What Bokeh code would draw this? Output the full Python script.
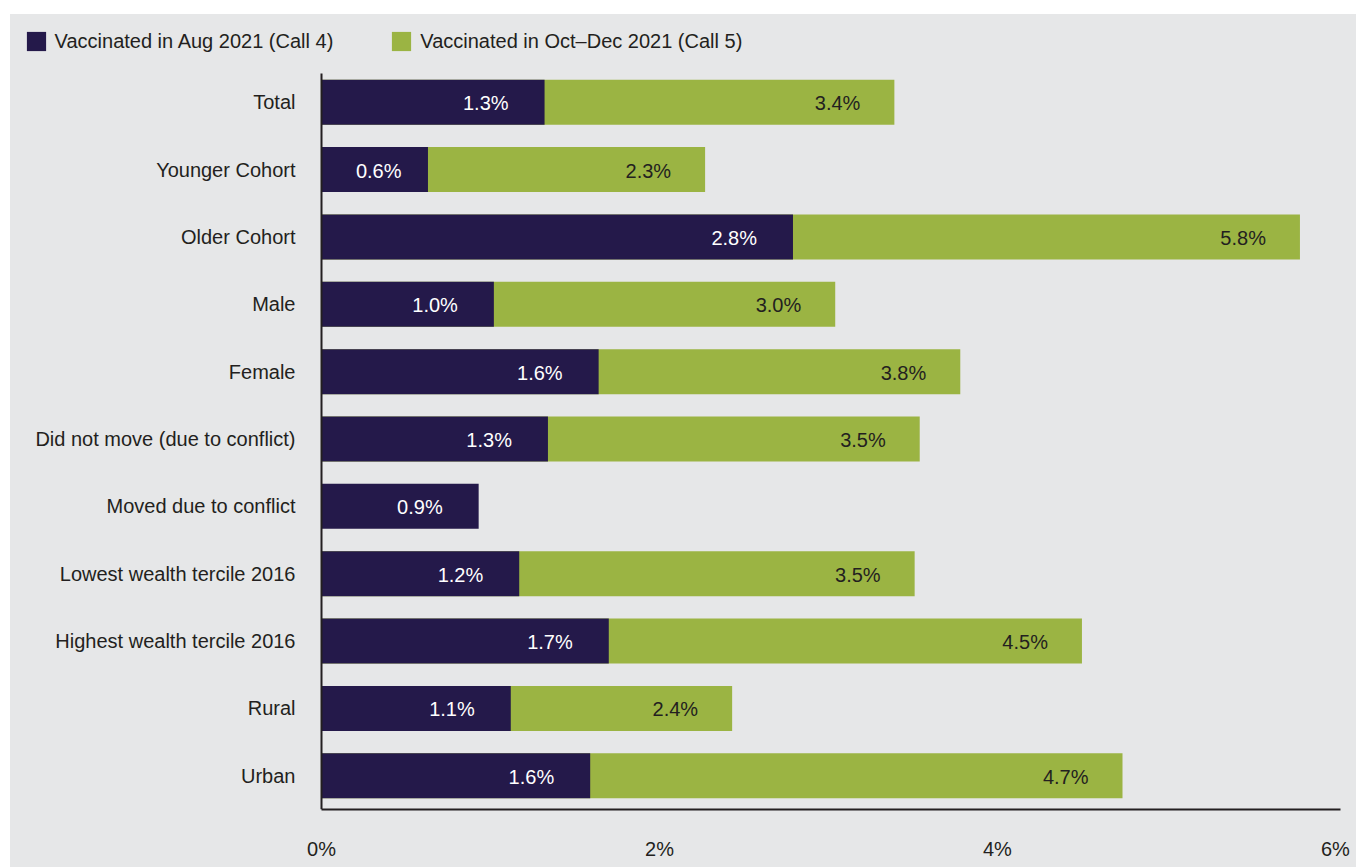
from bokeh.plotting import figure
from bokeh.models import Range1d, Legend, LegendItem, ColumnDataSource, FixedTicker
from bokeh.embed import file_html
from bokeh.resources import INLINE
from bokeh.core.properties import value

categories = ["Total", "Younger Cohort", "Older Cohort", "Male", "Female",
              "Did not move (due to conflict)", "Moved due to conflict",
              "Lowest wealth tercile 2016", "Highest wealth tercile 2016",
              "Rural", "Urban"]
call4 = [1.32, 0.63, 2.79, 1.02, 1.64, 1.34, 0.93, 1.17, 1.70, 1.12, 1.59]
call5 = [3.39, 2.27, 5.79, 3.04, 3.78, 3.54, None, 3.51, 4.50, 2.43, 4.74]
series_names = ["Vaccinated in Aug 2021 (Call 4)", "Vaccinated in Oct\u2013Dec 2021 (Call 5)"]
x_ticks = [0, 2, 4, 6]
x_tick_labels = ["0%", "2%", "4%", "6%"]

FONT = "Liberation Sans"
BG = "#e6e7e8"
PURPLE = "#24194a"
GREEN = "#9bb443"
DARK = "#231f20"
FS = "20px"

# layout (pixels)
FIG_W, FIG_H = 1346, 853
BOTTOM = 58
AXIS_LEFT = 311                     # x=0 offset from frame left
AXIS_W = 1019                       # x axis line length
XMAX = 6.03
PX = AXIS_W / XMAX
x_start = -AXIS_LEFT / PX
x_end = x_start + FIG_W / PX

ROW = 741 / len(categories)
TOP_PAD = 54 / ROW
ypos = list(range(len(categories)))
y_bottom = len(categories) - 0.5
y_top = -0.5 - TOP_PAD

p = figure(width=FIG_W, height=FIG_H,
           x_range=Range1d(x_start, x_end),
           y_range=Range1d(y_bottom, y_top),
           output_backend="svg", toolbar_location=None,
           min_border_left=0, min_border_right=0,
           min_border_top=0, min_border_bottom=BOTTOM,
           background_fill_color=BG, background_fill_alpha=0,
           border_fill_color=BG, border_fill_alpha=0,
           outline_line_color=None,
           styles={"background-color": BG})
p.margin = (14, 0, 0, 10)
p.title.visible = False
p.xgrid.visible = False
p.ygrid.visible = False

c5_y = [y for y, v in zip(ypos, call5) if v is not None]
c5_vals = [v for v in call5 if v is not None]

src5 = ColumnDataSource(dict(y=c5_y, right=c5_vals))
src4 = ColumnDataSource(dict(y=ypos, right=call4))

r5 = p.hbar(y="y", left=0, right="right", height=0.668, source=src5,
            fill_color=GREEN, line_color=None)
r4 = p.hbar(y="y", left=0, right="right", height=0.668, source=src4,
            fill_color=PURPLE, line_color=None)

p.text(x=c5_vals, y=c5_y, text=[f"{v:.1f}%" for v in c5_vals],
       text_align="right", text_baseline="middle", x_offset=-34, y_offset=1,
       text_color=DARK, text_font=value(FONT), text_font_size=FS)

r_x, r_y, r_t, c_x, c_y, c_t = [], [], [], [], [], []
for y, v in zip(ypos, call4):
    if v * PX < 110:
        c_x.append(v / 2); c_y.append(y); c_t.append(f"{v:.1f}%")
    else:
        r_x.append(v); r_y.append(y); r_t.append(f"{v:.1f}%")
p.text(x=r_x, y=r_y, text=r_t, text_align="right", text_baseline="middle",
       x_offset=-36, y_offset=1, text_color="white", text_font=value(FONT), text_font_size=FS)
p.text(x=c_x, y=c_y, text=c_t, text_align="center", text_baseline="middle",
       x_offset=4, y_offset=1, text_color="white", text_font=value(FONT), text_font_size=FS)

# x axis
p.xaxis.ticker = FixedTicker(ticks=x_ticks)
p.xaxis.major_label_overrides = {t: l for t, l in zip(x_ticks, x_tick_labels)}
p.xaxis.bounds = (0, XMAX)
p.xaxis.major_tick_out = 0
p.xaxis.major_tick_in = 0
p.xaxis.minor_tick_out = 0
p.xaxis.minor_tick_in = 0
p.xaxis.axis_line_color = DARK
p.xaxis.axis_line_width = 2
p.xaxis.major_label_standoff = 28
p.xaxis.major_label_text_font = FONT
p.xaxis.major_label_text_font_size = FS
p.xaxis.major_label_text_color = DARK

# y axis drawn at x = 0
p.yaxis.fixed_location = 0
p.yaxis.ticker = FixedTicker(ticks=ypos)
p.yaxis.major_label_overrides = {y: c for y, c in zip(ypos, categories)}
p.yaxis.bounds = (-0.5 + 5 / ROW, len(categories) - 0.5)
p.yaxis.major_tick_out = 0
p.yaxis.major_tick_in = 0
p.yaxis.minor_tick_out = 0
p.yaxis.minor_tick_in = 0
p.yaxis.axis_line_color = DARK
p.yaxis.axis_line_width = 2
p.yaxis.major_label_standoff = 26
p.yaxis.major_label_text_font = FONT
p.yaxis.major_label_text_font_size = FS
p.yaxis.major_label_text_color = DARK

legend = Legend(items=[LegendItem(label=series_names[0], renderers=[r4]),
                       LegendItem(label=series_names[1], renderers=[r5])],
                orientation="horizontal", location=(13.6, 756),
                glyph_width=24, glyph_height=24, label_standoff=7, spacing=56,
                padding=0, margin=0, border_line_color=None,
                background_fill_alpha=0,
                label_text_font=FONT, label_text_font_size=FS,
                label_text_color=DARK)
p.add_layout(legend, "center")

open("out.html", "w").write(file_html(p, INLINE))
